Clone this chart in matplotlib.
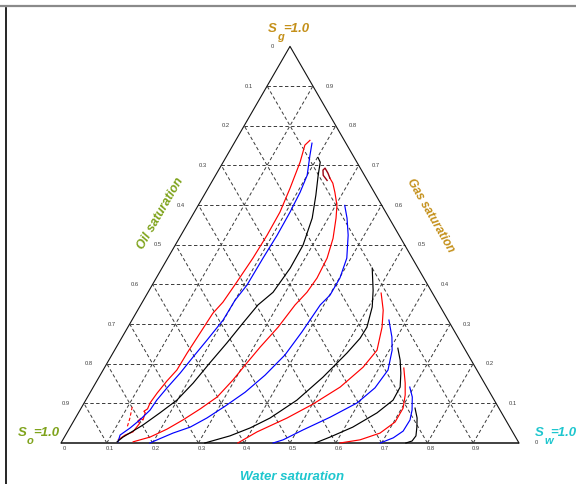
import numpy as np
import matplotlib
matplotlib.use("Agg")
import matplotlib.pyplot as plt
from matplotlib.lines import Line2D

plt.rcParams['font.family'] = ['Liberation Sans', 'DejaVu Sans']

# ---- saturation paths (Sw = water, Sg = gas; So = 1 - Sw - Sg) ----
path1_sw = [0.121, 0.130, 0.143, 0.147, 0.140, 0.143, 0.150, 0.146, 0.141, 0.146, 0.144,
            0.147, 0.153, 0.161, 0.162, 0.165, 0.168, 0.176, 0.181, 0.186, 0.188, 0.187,
            0.179, 0.168, 0.157, 0.162]
path1_sg = [0.008, 0.020, 0.028, 0.050, 0.055, 0.062, 0.058, 0.076, 0.080, 0.086, 0.101,
            0.126, 0.156, 0.184, 0.227, 0.277, 0.327, 0.355, 0.406, 0.466, 0.524, 0.582,
            0.642, 0.708, 0.751, 0.763]
path1b_sw = [0.110, 0.119, 0.125]
path1b_sg = [0.091, 0.063, 0.038]

path2_sw = [0.123, 0.119, 0.132, 0.143, 0.153, 0.155, 0.162, 0.172, 0.180, 0.189, 0.199,
            0.200, 0.207, 0.208, 0.210, 0.209, 0.206, 0.200, 0.181, 0.170]
path2_sg = [0.003, 0.020, 0.038, 0.058, 0.083, 0.108, 0.139, 0.176, 0.217, 0.259, 0.310,
            0.360, 0.398, 0.466, 0.524, 0.582, 0.632, 0.675, 0.725, 0.756]

path3_sw = [0.121, 0.128, 0.156, 0.178, 0.199, 0.213, 0.224, 0.236, 0.246, 0.256, 0.273,
            0.280, 0.279, 0.265, 0.244, 0.224, 0.212, 0.201]
path3_sg = [0.003, 0.015, 0.045, 0.076, 0.108, 0.151, 0.202, 0.252, 0.302, 0.348, 0.380,
            0.441, 0.499, 0.567, 0.625, 0.675, 0.708, 0.720]

path4_sw = [0.156, 0.187, 0.214, 0.237, 0.261, 0.283, 0.296, 0.305, 0.314, 0.328, 0.337,
            0.347, 0.351, 0.348, 0.336, 0.317, 0.303, 0.282, 0.266, 0.253]
path4_sg = [0.003, 0.015, 0.035, 0.058, 0.086, 0.116, 0.159, 0.202, 0.242, 0.292, 0.348,
            0.380, 0.416, 0.466, 0.516, 0.567, 0.599, 0.632, 0.655, 0.668]
loop4_sw = [0.253, 0.243, 0.230, 0.228, 0.235, 0.250]
loop4_sg = [0.668, 0.680, 0.693, 0.688, 0.675, 0.662]

path5_sw = [0.194, 0.206, 0.232, 0.262, 0.287, 0.312, 0.338, 0.360, 0.378, 0.386, 0.392,
            0.401, 0.401, 0.391, 0.365, 0.341, 0.320]
path5_sg = [0.000, 0.008, 0.025, 0.040, 0.063, 0.093, 0.128, 0.171, 0.222, 0.280, 0.348,
            0.373, 0.416, 0.466, 0.524, 0.567, 0.599]

path6_sw = [0.314, 0.360, 0.394, 0.425, 0.461, 0.489, 0.511, 0.521, 0.522, 0.508, 0.489, 0.459]
path6_sg = [0.000, 0.018, 0.038, 0.063, 0.108, 0.166, 0.227, 0.264, 0.292, 0.343, 0.385, 0.441]

path7_sw = [0.386, 0.414, 0.462, 0.501, 0.539, 0.564, 0.573, 0.555, 0.536, 0.510]
path7_sg = [0.000, 0.028, 0.063, 0.098, 0.141, 0.191, 0.234, 0.292, 0.335, 0.378]

path8_sw = [0.463, 0.481, 0.512, 0.555, 0.596, 0.616, 0.622, 0.606, 0.589, 0.561]
path8_sg = [0.000, 0.008, 0.033, 0.065, 0.101, 0.139, 0.184, 0.234, 0.267, 0.310]

path9_sw = [0.555, 0.580, 0.617, 0.652, 0.671, 0.670, 0.654, 0.636, 0.616]
path9_sg = [0.000, 0.015, 0.040, 0.076, 0.108, 0.141, 0.176, 0.209, 0.239]

path10_sw = [0.609, 0.649, 0.684, 0.703, 0.703, 0.691, 0.676, 0.654]
path10_sg = [0.000, 0.008, 0.025, 0.053, 0.088, 0.121, 0.151, 0.189]

path11_sw = [0.697, 0.719, 0.732, 0.733, 0.725, 0.709, 0.691]
path11_sg = [0.000, 0.013, 0.030, 0.058, 0.083, 0.116, 0.141]

path12_sw = [0.753, 0.764, 0.766, 0.757, 0.746, 0.729]
path12_sg = [0.000, 0.005, 0.018, 0.040, 0.063, 0.088]

paths = [
    (path1_sw, path1_sg, 'red'), (path2_sw, path2_sg, 'blue'), (path3_sw, path3_sg, 'black'),
    (path4_sw, path4_sg, 'red'), (path5_sw, path5_sg, 'blue'), (path6_sw, path6_sg, 'black'),
    (path7_sw, path7_sg, 'red'), (path8_sw, path8_sg, 'blue'), (path9_sw, path9_sg, 'black'),
    (path10_sw, path10_sg, 'red'), (path11_sw, path11_sg, 'blue'), (path12_sw, path12_sg, 'black'),
]

grid_levels = [0.1, 0.2, 0.3, 0.4, 0.5, 0.6, 0.7, 0.8, 0.9]
bottom_ticks = [0, 0.1, 0.2, 0.3, 0.4, 0.5, 0.6, 0.7, 0.8, 0.9]   # water
left_ticks = [0, 0.1, 0.2, 0.3, 0.4, 0.5, 0.6, 0.7, 0.8, 0.9]     # oil
right_ticks = [0, 0.1, 0.2, 0.3, 0.4, 0.5, 0.6, 0.7, 0.8, 0.9]    # gas

GOLD = '#C4901A'
GREEN = '#7FA31C'
CYAN = '#1EC6CE'

R3 = np.sqrt(3) / 2


def tern(sw, sg):
    sw = np.asarray(sw, float)
    sg = np.asarray(sg, float)
    return sw + sg / 2.0, sg * R3


fig = plt.figure(figsize=(5.76, 4.84), dpi=100)
ax = fig.add_axes([0, 0, 1, 1])
S = 458.0
ax.set_xlim(-61 / S, 515 / S)
ax.set_ylim(-41 / S, 443 / S)
ax.axis('off')

# frame lines
fig.add_artist(Line2D([0, 1], [1 - 6 / 484, 1 - 6 / 484], color='#8a8a8a', lw=1.6,
                      transform=fig.transFigure))
fig.add_artist(Line2D([6 / 576, 6 / 576], [0, 1 - 8 / 484], color='black', lw=1.2,
                      transform=fig.transFigure))

dash = (0, (3.5, 2.5))
gkw = dict(color='#3a3a3a', lw=0.7, linestyle=dash)
for v in grid_levels:
    # constant gas
    x, y = tern([0, 1 - v], [v, v])
    ax.plot(x, y, **gkw)
    # constant water
    x, y = tern([v, v], [0, 1 - v])
    ax.plot(x, y, **gkw)
    # constant oil
    x, y = tern([1 - v, 0], [0, 1 - v])
    ax.plot(x, y, **gkw)

# triangle edges
x, y = tern([0, 1], [0, 0])
ax.plot(x, y, color='#333333', lw=1.3, solid_capstyle='butt')
x, y = tern([0, 0, 1], [0, 1, 0])
ax.plot(x, y, color='#111111', lw=0.8)

# saturation paths
for sw, sg, c in paths:
    x, y = tern(sw, sg)
    ax.plot(x, y, color=c, lw=0.85)
x, y = tern(loop4_sw, loop4_sg)
ax.plot(x, y, color='#9a0010', lw=1.0)
x, y = tern(path1b_sw, path1b_sg)
ax.plot(x, y, color='red', lw=0.8, linestyle=(0, (3, 2)))

# tick labels
tk = dict(fontsize=4.2, color='#404040', ha='center', va='center')
for v in bottom_ticks:
    x, y = tern(v, 0)
    ax.text(x + 3 / S, y - 5 / S, f"{v:g}", **tk)
for v in left_ticks:
    x, y = tern(0, 1 - v)
    ax.text(x - 18 / S, y, f"{v:g}", **tk)
for v in right_ticks:
    x, y = tern(1 - v, v)
    ax.text(x + 17 / S, y, f"{v:g}", **tk)

# axis titles
tt = dict(fontweight='bold', style='italic', ha='center', va='center')
ax.text(100 / S, 229 / S, 'Oil saturation', rotation=60, color=GREEN, fontsize=9, **tt)
ax.text(369 / S, 227 / S, 'Gas saturation', rotation=-60, color=GOLD, fontsize=8.6, **tt)
ax.text(231 / S, -34 / S, 'Water saturation', color=CYAN, fontsize=9.5, **tt)

# corner labels
ck = dict(fontweight='bold', style='italic', ha='left', va='baseline')


def corner(x0, y0, sub, col):
    ax.text(x0 / S, y0 / S, 'S', fontsize=9.5, color=col, **ck)
    ax.text((x0 + 9) / S, (y0 - 8) / S, sub, fontsize=8, color=col, **ck)
    ax.text((x0 + 15) / S, y0 / S, '=1.0', fontsize=9.5, color=col, **ck)


corner(207, 411, 'g', GOLD)
corner(-43, 7, 'o', GREEN)
corner(474, 7, 'w', CYAN)

fig.savefig('out.png', dpi=100)
